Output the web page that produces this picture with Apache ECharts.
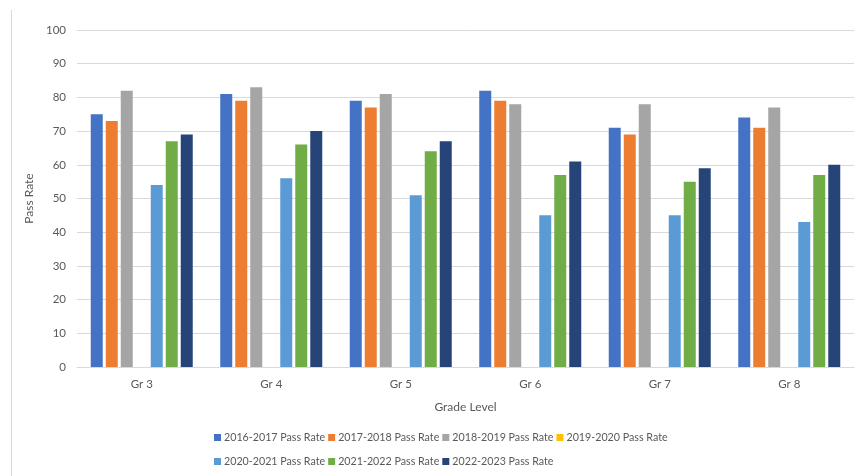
<!DOCTYPE html>
<html>
<head>
<meta charset="utf-8">
<script src="https://cdn.jsdelivr.net/npm/echarts@6/dist/echarts.min.js"></script>
<style>
  html, body { margin: 0; padding: 0; background: #fff; }
  #chart { width: 857px; height: 476px; }
</style>
</head>
<body>
<div id="chart"></div>
<script>
// Grade-level pass rates by school year
const grades = ['Gr 3', 'Gr 4', 'Gr 5', 'Gr 6', 'Gr 7', 'Gr 8'];
const seriesNames = [
  '2016-2017 Pass Rate', '2017-2018 Pass Rate', '2018-2019 Pass Rate', '2019-2020 Pass Rate',
  '2020-2021 Pass Rate', '2021-2022 Pass Rate', '2022-2023 Pass Rate'
];
const rate2016 = [75, 81, 79, 82, 71, 74];
const rate2017 = [73, 79, 77, 79, 69, 71];
const rate2018 = [82, 83, 81, 78, 78, 77];
const rate2019 = [null, null, null, null, null, null]; // no testing that year
const rate2020 = [54, 56, 51, 45, 45, 43];
const rate2021 = [67, 66, 64, 57, 55, 57];
const rate2022 = [69, 70, 67, 61, 59, 60];
const yTicks = [0, 10, 20, 30, 40, 50, 60, 70, 80, 90, 100];

const allValues = [rate2016, rate2017, rate2018, rate2019, rate2020, rate2021, rate2022];
const colors = ['#4472C4', '#ED7D31', '#A5A5A5', '#FFC000', '#5B9BD5', '#70AD47', '#264478'];
const font = 'Lato, "Open Sans", sans-serif';
const textColor = '#595959';

const chart = echarts.init(document.getElementById('chart'), null, { renderer: 'canvas' });

const legendBase = {
  orient: 'horizontal',
  left: 214,
  itemWidth: 7,
  itemHeight: 7,
  itemGap: 3,
  icon: 'rect',
  textStyle: { color: textColor, fontSize: 10.7, fontFamily: font, padding: [0, 0, 0, -2] },
  padding: 0
};

chart.setOption({
  animation: false,
  color: colors,
  graphic: [{
    type: 'line',
    shape: { x1: 11.5, y1: 10, x2: 11.5, y2: 476 },
    style: { stroke: '#D9D9D9', lineWidth: 1 }
  }],
  grid: { left: 77, right: 3, top: 30, bottom: 109, containLabel: false },
  legend: [
    Object.assign({}, legendBase, { top: 432, data: seriesNames.slice(0, 4) }),
    Object.assign({}, legendBase, { top: 456, data: seriesNames.slice(4) })
  ],
  xAxis: {
    type: 'category',
    data: grades,
    name: 'Grade Level',
    nameLocation: 'middle',
    nameGap: 34,
    nameTextStyle: { color: textColor, fontSize: 12, fontFamily: font },
    axisLine: { lineStyle: { color: '#D9D9D9' } },
    axisTick: { show: false },
    axisLabel: { color: textColor, fontSize: 11.5, fontFamily: font, margin: 11 }
  },
  yAxis: {
    type: 'value',
    min: yTicks[0],
    max: yTicks[yTicks.length - 1],
    interval: 10,
    name: 'Pass Rate',
    nameLocation: 'middle',
    nameGap: 32,
    nameTextStyle: { color: textColor, fontSize: 12, fontFamily: font },
    axisLine: { show: false },
    axisTick: { show: false },
    axisLabel: { color: textColor, fontSize: 11.5, fontFamily: font, margin: 11 },
    splitLine: { lineStyle: { color: '#D9D9D9', width: 1 } }
  },
  series: seriesNames.map((name, i) => ({
    name: name,
    type: 'bar',
    data: allValues[i],
    barWidth: 12,
    barGap: '25%',
    itemStyle: { color: colors[i] }
  }))
});
</script>
</body>
</html>
